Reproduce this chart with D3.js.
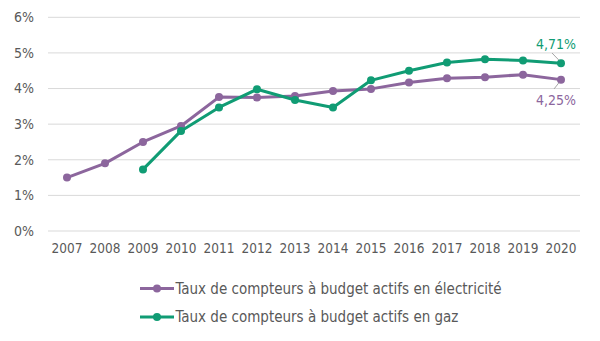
<!DOCTYPE html>
<html>
<head>
<meta charset="utf-8">
<script src="https://cdn.jsdelivr.net/npm/d3@7"></script>
<style>
  body { margin: 0; background: #fff; }
  svg text { font-family: "Liberation Sans Narrow", "DejaVu Sans Condensed", "Roboto", sans-serif; fill: #595959; }
</style>
</head>
<body>
<script>
// years on the x axis
const years = [2007, 2008, 2009, 2010, 2011, 2012, 2013, 2014, 2015, 2016, 2017, 2018, 2019, 2020];

// share of active budget meters (%), null where no data
const electricite = [1.50, 1.90, 2.50, 2.95, 3.76, 3.75, 3.79, 3.93, 3.99, 4.17, 4.29, 4.32, 4.39, 4.25];
const gaz = [null, null, 1.73, 2.81, 3.47, 3.98, 3.68, 3.47, 4.23, 4.50, 4.73, 4.82, 4.79, 4.71];

const yTicks = [0, 1, 2, 3, 4, 5, 6];

const seriesNames = [
  'Taux de compteurs à budget actifs en électricité',
  'Taux de compteurs à budget actifs en gaz'
];

const width = 600;
const height = 341;
const purple = '#8c669d';
const green = '#109c74';

const svg = d3.select('body')
  .append('svg')
    .attr('width', width)
    .attr('height', height);

const x = d3.scaleBand()
    .domain(years)
    .range([48, 580]);

const y = d3.scaleLinear()
    .domain([0, 6])
    .range([231, 17.3]);

const cx = d => x(d) + x.bandwidth() / 2;

// horizontal gridlines
svg.append('g')
  .selectAll('line')
  .data(yTicks)
  .enter()
  .append('line')
    .attr('x1', 48)
    .attr('x2', 580)
    .attr('y1', d => y(d))
    .attr('y2', d => y(d))
    .attr('stroke', '#d9d9d9')
    .attr('stroke-width', 1);

// y axis labels
svg.append('g')
  .selectAll('text')
  .data(yTicks)
  .enter()
  .append('text')
    .attr('x', 34)
    .attr('y', d => y(d))
    .attr('dy', '0.35em')
    .attr('text-anchor', 'end')
    .style('font-size', '14px')
    .text(d => d + '%');

// x axis labels
svg.append('g')
  .selectAll('text')
  .data(years)
  .enter()
  .append('text')
    .attr('x', d => cx(d))
    .attr('y', 248)
    .attr('dy', '0.35em')
    .attr('text-anchor', 'middle')
    .style('font-size', '13.5px')
    .text(d => d);

const series = [
  { name: seriesNames[0], values: electricite, color: purple },
  { name: seriesNames[1], values: gaz, color: green }
];

const line = d3.line()
    .defined(d => d.v !== null)
    .x(d => cx(d.year))
    .y(d => y(d.v));

series.forEach(s => {
  const pts = years.map((yr, i) => ({ year: yr, v: s.values[i] }));
  const g = svg.append('g');
  g.append('path')
      .datum(pts)
      .attr('d', line)
      .attr('fill', 'none')
      .attr('stroke', s.color)
      .attr('stroke-width', 3)
      .attr('stroke-linejoin', 'round');
  g.selectAll('circle')
    .data(pts.filter(d => d.v !== null))
    .enter()
    .append('circle')
      .attr('cx', d => cx(d.year))
      .attr('cy', d => y(d.v))
      .attr('r', 4)
      .attr('fill', s.color);
});

// value labels for 2020 with leader lines
const last = years.length - 1;
const lastX = cx(years[last]);

svg.append('line')
    .attr('x1', 552).attr('y1', 53)
    .attr('x2', lastX - 2).attr('y2', y(gaz[last]) - 3)
    .attr('stroke', '#a6a6a6');
svg.append('text')
    .attr('x', 536)
    .attr('y', 44)
    .attr('dy', '0.35em')
    .style('font-size', '14px')
    .style('fill', green)
    .text(d3.format('.2f')(gaz[last]).replace('.', ',') + '%');

svg.append('line')
    .attr('x1', 554).attr('y1', 89)
    .attr('x2', lastX - 2).attr('y2', y(electricite[last]) + 3)
    .attr('stroke', '#a6a6a6');
svg.append('text')
    .attr('x', 536)
    .attr('y', 100)
    .attr('dy', '0.35em')
    .style('font-size', '14px')
    .style('fill', purple)
    .text(d3.format('.2f')(electricite[last]).replace('.', ',') + '%');

// legend
const legend = svg.append('g')
  .selectAll('g')
  .data(series)
  .enter()
  .append('g')
    .attr('transform', (d, i) => `translate(140, ${288.5 + i * 28.5})`);

legend.append('line')
    .attr('x1', 0).attr('x2', 34)
    .attr('stroke', d => d.color)
    .attr('stroke-width', 3);
legend.append('circle')
    .attr('cx', 17)
    .attr('r', 4)
    .attr('fill', d => d.color);
legend.append('text')
    .attr('x', 35.5)
    .attr('dy', '0.35em')
    .style('font-size', '15px')
    .text(d => d.name);
</script>
</body>
</html>
